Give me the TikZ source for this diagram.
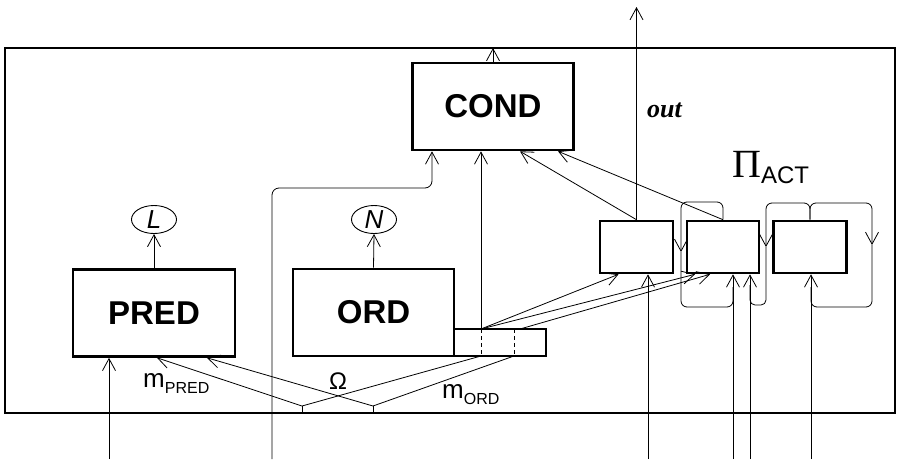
\documentclass[tikz,border=0pt]{standalone}
\usepackage{fontspec}
\setmainfont{Liberation Serif}
\setsansfont{Liberation Sans}
\usetikzlibrary{arrows.meta,shapes.geometric}
\tikzset{
  node-box/.style={draw,line width=2.6pt,minimum width=161pt,minimum height=87pt,
    inner sep=0pt,font=\sffamily\bfseries\fontsize{33}{33}\selectfont},
  node-act/.style={draw,line width=2.6pt,minimum width=73pt,minimum height=52pt},
  node-ext/.style={draw,line width=1.2pt,minimum width=92pt,minimum height=27pt},
  node-tag/.style={draw,ellipse,line width=0.9pt,minimum width=45pt,minimum height=28pt,
    inner sep=0pt,font=\sffamily\itshape\fontsize{26}{26}\selectfont},
  node-lbl/.style={inner sep=0pt,anchor=base west,font=\sffamily\fontsize{26}{26}\selectfont},
  % open V heads as in the scan
  arrow/.style={-{Straight Barb[length=12pt,width=13pt]},line width=0.8pt},
  wire/.style={line width=0.8pt},
  wire-dash/.style={line width=0.8pt,dash pattern=on 4pt off 3pt},
  frame-line/.style={line width=2.6pt},
}
\newcommand{\subtxt}[1]{\raisebox{-6pt}{\fontsize{16}{16}\selectfont #1}}

\begin{document}
\begin{tikzpicture}[x=1pt,y=-1pt]
  \useasboundingbox (0,0) rectangle (897,461);
  \draw[frame-line] (5,48) rectangle (895,413);

  \node[node-box] (cond) at (493,106.5) {COND};
  \node[node-box,minimum width=162pt] (pred) at (154,313) {PRED};
  \node[node-box] (ord) at (373.5,312.5) {ORD};
  \node[node-ext] (ordx) at (500,342.5) {};
  \node[node-act] (act1) at (636.5,247) {};
  \node[node-act,minimum width=72pt] (act2) at (723,247) {};
  \node[node-act] (act3) at (810,247) {};
  \node[node-tag] (L) at (154,219.5) {L};
  \node[node-tag] (N) at (374,219.5) {N};

  \node[node-lbl] (m-pred) at (143,387) {m\subtxt{PRED}};
  \node[node-lbl] (m-ord) at (442,398) {m\subtxt{ORD}};
  \node[node-lbl,anchor=base,font=\sffamily\fontsize{24}{24}\selectfont] (omega) at (338,389) {Ω};
  \node[node-lbl,font=\rmfamily\bfseries\itshape\fontsize{26}{26}\selectfont] (out-lbl) at (647,117) {out};
  \node[node-lbl] (pi-act) at (732,177)
    {{\rmfamily\fontsize{40}{40}\selectfont Π}\raisebox{-6pt}{\fontsize{24}{24}\selectfont ACT}};

  \coordinate (cond-top) at (493,48);
  \coordinate (out) at (636.5,7);
  \foreach \name/\x in {in-pred/109, in-cond/272, in-a1/648, in-a2/733, in-a2b/750, in-a3/811}
    \coordinate (\name) at (\x,459);
  \coordinate (bend-cond) at (432,188);
  \coordinate (ox-a) at (481,329);
  \coordinate (ox-b) at (520,329);
  \coordinate (ox-c) at (481,356);
  \coordinate (ox-d) at (514,356);
  \coordinate (ox-e) at (514,329);
  \coordinate (om-a) at (302,406);
  \coordinate (om-b) at (373,406);

  \draw[arrow] (pred.north) -- (L.south);
  \draw[arrow] (ord.north) -- (N.south);
  \draw[arrow] (cond.north) -- (cond-top);
  \draw[arrow] (act1.north) -- (out);

  \draw[arrow] (in-pred) -- (in-pred |- pred.south);
  \draw[arrow,rounded corners=7pt] (in-cond) |- (bend-cond) -- (bend-cond |- cond.south);
  \draw[arrow] (ox-a) -- (ox-a |- cond.south);
  \draw[arrow] (act1.north) -- ([xshift=27pt]cond.south);
  \draw[arrow] (act2.north) -- ([xshift=65pt]cond.south);

  \draw[wire-dash] (ox-a) -- (ox-c);
  \draw[wire-dash] (ox-e) -- (ox-d);
  \draw[arrow] (ox-a) -- ([xshift=-18pt]act1.south);
  \draw[arrow] (ox-a) -- ([xshift=-28pt]act2.south);
  \draw[arrow] (ox-b) -- ([xshift=-13pt]act2.south);

  \draw[wire] (om-a) -- ++(0,7);
  \draw[wire] (om-b) -- ++(0,7);
  \draw[arrow] (om-a) -- ([xshift=3pt]pred.south);
  \draw[arrow] (om-b) -- ([xshift=53pt]pred.south);
  \draw[wire] (om-a) -- (ox-c);
  \draw[wire] (om-b) -- (ox-d);

  \draw[arrow] (in-a1) -- (in-a1 |- act1.south);
  \draw[arrow] (in-a2) -- (in-a2 |- act2.south);
  \draw[arrow] (in-a2b) -- (in-a2b |- act2.south);
  \draw[arrow] (in-a3) -- (in-a3 |- act3.south);

  \coordinate (lp1-a) at (681,202);
  \coordinate (lp1-b) at (681,252);
  \coordinate (lp1-c) at (733,307);
  \coordinate (lp2-a) at (766,203);
  \coordinate (lp2-b) at (766,247);
  \coordinate (lp2-c) at (750,305);
  \coordinate (lp3-a) at (872,203);
  \coordinate (lp3-b) at (872,245);
  \coordinate (lp3-c) at (811,307);
  \draw[arrow,rounded corners=6pt] (act2.north) |- (lp1-a) -- (lp1-b);
  \draw[wire,rounded corners=6pt] (lp1-b) |- (lp1-c) -- ++(0,-20);
  \draw[arrow,rounded corners=6pt] (act3.north) |- (lp2-a) -- (lp2-b);
  \draw[wire,rounded corners=5pt] (lp2-b) |- (lp2-c) -- ++(0,-20);
  \draw[arrow,rounded corners=6pt] (act3.north) |- (lp3-a) -- (lp3-b);
  \draw[wire,rounded corners=6pt] (lp3-b) |- (lp3-c) -- ++(0,-20);
\end{tikzpicture}
\end{document}
